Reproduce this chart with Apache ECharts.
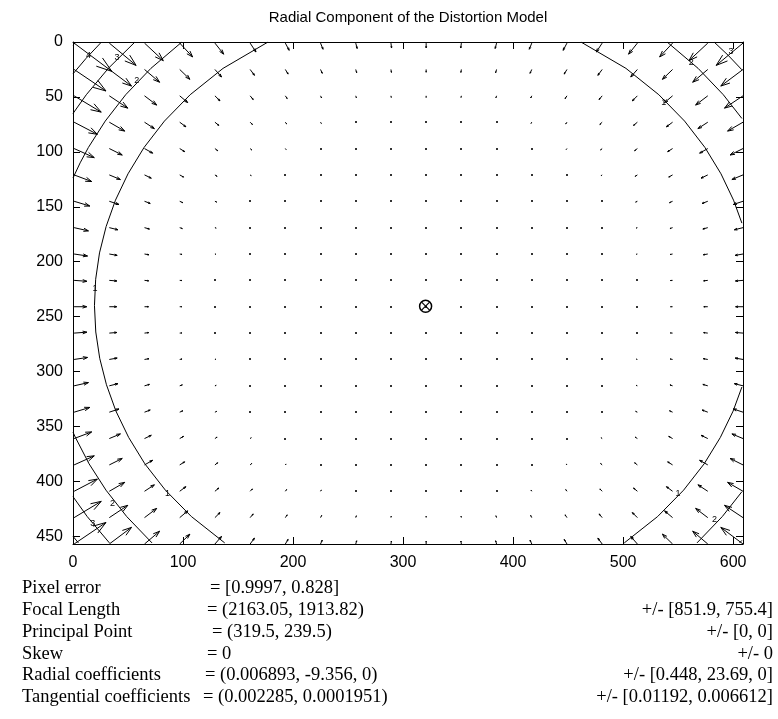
<!DOCTYPE html>
<html><head><meta charset="utf-8">
<script src="https://cdn.jsdelivr.net/npm/echarts@6/dist/echarts.min.js"></script>
<style>html,body{margin:0;padding:0;background:#fff}#c{width:778px;height:719px}</style>
</head><body><div id="c"></div>
<script>
// ---------------- data ----------------
const titleText = 'Radial Component of the Distortion Model';
const xTickValues = [0, 100, 200, 300, 400, 500, 600];
const yTickValues = [0, 50, 100, 150, 200, 250, 300, 350, 400, 450];
// quiver base points (pixel coordinates of the image grid)
const gridX = [1, 33, 65, 97, 129, 161, 193, 225, 257, 289, 321, 353, 385, 417, 449, 481, 513, 545, 577, 609];
const gridY = [1, 25, 49, 73, 97, 121, 145, 169, 193, 217, 241, 265, 289, 313, 337, 361, 385, 409, 433, 457];
const centerCol = 10, centerRow = 10;
// arrow magnitudes (x and y component) by grid distance from the centre: rows = |row-10|, cols = |col-10|
const arrowU = [
  [0, 0, 0, 0, 0.1, 0.2, 0.6, 1.3, 2.6, 4.8, 8.2],
  [0, 0, 0, 0, 0.1, 0.2, 0.6, 1.4, 2.7, 4.9, 8.3],
  [0, 0, 0, 0, 0.1, 0.3, 0.7, 1.5, 2.9, 5.1, 8.7],
  [0, 0, 0, 0, 0.1, 0.4, 0.8, 1.7, 3.2, 5.6, 9.3],
  [0, 0, 0, 0.1, 0.2, 0.5, 1.1, 2.0, 3.7, 6.3, 10.2],
  [0, 0, 0.1, 0.2, 0.4, 0.7, 1.4, 2.5, 4.4, 7.2, 11.4],
  [0, 0.1, 0.1, 0.3, 0.5, 1.0, 1.8, 3.2, 5.3, 8.4, 13.1],
  [0, 0.1, 0.2, 0.5, 0.8, 1.5, 2.5, 4.0, 6.4, 10.0, 15.1],
  [0, 0.2, 0.4, 0.7, 1.2, 2.0, 3.3, 5.2, 7.9, 12.0, 17.6],
  [0, 0.3, 0.6, 1.1, 1.8, 2.8, 4.3, 6.6, 9.8, 14.4, 20.7],
  [0, 0.4, 0.9, 1.6, 2.5, 3.8, 5.7, 8.4, 12.2, 17.4, 24.5]
];
const arrowV = [
  [0, 0, 0, 0, 0, 0, 0, 0, 0, 0, 0],
  [0, 0, 0, 0, 0, 0, 0.1, 0.1, 0.3, 0.4, 0.6],
  [0, 0, 0, 0, 0, 0.1, 0.2, 0.3, 0.5, 0.9, 1.3],
  [0, 0, 0, 0, 0.1, 0.2, 0.3, 0.6, 0.9, 1.4, 2.1],
  [0, 0, 0, 0.1, 0.2, 0.3, 0.5, 0.9, 1.4, 2.1, 3.1],
  [0.1, 0.1, 0.1, 0.2, 0.3, 0.5, 0.9, 1.4, 2.1, 3.0, 4.3],
  [0.2, 0.2, 0.3, 0.4, 0.6, 0.9, 1.4, 2.0, 3.0, 4.2, 5.9],
  [0.5, 0.5, 0.6, 0.8, 1.1, 1.5, 2.1, 3.0, 4.2, 5.8, 7.9],
  [1.0, 1.0, 1.2, 1.4, 1.8, 2.4, 3.3, 4.4, 6.0, 8.0, 10.6],
  [1.8, 1.9, 2.1, 2.5, 3.0, 3.8, 4.9, 6.4, 8.3, 10.8, 14.0],
  [3.1, 3.2, 3.5, 4.0, 4.7, 5.8, 7.2, 9.0, 11.4, 14.5, 18.4]
];
const quiverScale = 1.4;
const principalPoint = [320.5, 240.5];
// contour lines of the distortion magnitude (pixels)
const contour1 = [
  [[177.3,0],[136.4,24],[106.5,48],[83.1,72],[64.6,96],[50.0,120],[38.6,144],[30.1,168],[24.1,192],[20.6,216],[19.5,240],[20.7,264],[24.3,288],[30.4,312],[39.0,336],[50.6,360],[65.3,384],[84.0,408],[107.6,432],[137.9,456]],
  [[461.7,0],[502.6,24],[532.5,48],[555.9,72],[574.4,96],[589.0,120],[600.4,144],[608,164.9]],
  [[608,314.1],[600.0,336],[588.4,360],[573.7,384],[555.0,408],[531.4,432],[501.1,456]]
];
const contour2 = [
  [[99.0,0],[70.8,24],[47.9,48],[29.3,72],[14.0,96],[6.5,110],[0,123.8]],
  [[0,355.2],[2.2,360],[14.6,384],[30.0,408],[48.8,432],[71.8,456]],
  [[540.0,0],[568.2,24],[591.1,48],[608,69.6]],
  [[608,409.4],[590.2,432],[567.2,456]]
];
const contour3 = [
  [[56.3,0],[32.1,24],[12.1,48],[0,65.1]],
  [[0,413.9],[12.9,432],[33.1,456]],
  [[582.7,0],[595.4,12],[608,25.3]],
  [[605.9,456],[608,453.7]]
];
const contour4 = [
  [[25.9,0],[11.8,15],[0,29]],
  [[0,450],[4.9,456]]
];
const contour5 = [
  [[2.7,0],[0,2.9]]
];
const contourLabels = [
  [20, 224, '1'], [537, 55, '1'], [550, 411, '1'], [86, 411, '1'],
  [58, 35, '2'], [36, 420, '2'], [562, 19, '2'], [583, 435, '2'],
  [40, 14, '3'], [18, 438, '3'], [598, 9, '3'],
  [14, 12, '4']
];
const infoLabels = ['Pixel error', 'Focal Length', 'Principal Point', 'Skew', 'Radial coefficients', 'Tangential coefficients'];
const infoValues = ['= [0.9997, 0.828]', '= (2163.05, 1913.82)', '= (319.5, 239.5)', '= 0', '= (0.006893, -9.356, 0)', '= (0.002285, 0.0001951)'];
const infoErrors = ['', '+/- [851.9, 755.4]', '+/- [0, 0]', '+/- 0', '+/- [0.448, 23.69, 0]', '+/- [0.01192, 0.006612]'];

// ---------------- build ----------------
const arrows = [];
gridY.forEach((y, j) => {
  gridX.forEach((x, i) => {
    const k = Math.abs(i - centerCol), m = Math.abs(j - centerRow);
    const sx = i < centerCol ? 1 : -1, sy = j < centerRow ? 1 : -1;
    arrows.push([x, y, sx * arrowU[m][k] * quiverScale, sy * arrowV[m][k] * quiverScale]);
  });
});

const chart = echarts.init(document.getElementById('c'), null, {renderer: 'canvas'});
const black = '#000';
const sansFont = 'Liberation Sans';
const serifFont = 'Liberation Serif';
const infoSize = 18.5;

function axisCommon(extra) {
  return Object.assign({
    type: 'value',
    axisLine: {show: true, onZero: false, lineStyle: {color: black, width: 1}},
    axisTick: {show: true, inside: true, length: 7, lineStyle: {color: black, width: 1}},
    splitLine: {show: false},
    axisLabel: {show: false}
  }, extra);
}

const contourSeries = [];
[contour1, contour2, contour3, contour4, contour5].forEach(level => {
  level.forEach(seg => {
    contourSeries.push({
      type: 'line', data: seg, showSymbol: false, symbol: 'none', silent: true,
      lineStyle: {color: black, width: 1}, z: 3, animation: false, clip: true
    });
  });
});

const graphics = [{
  type: 'text', x: 408, y: 18,
  style: {text: titleText, fontFamily: sansFont, fontSize: 15, fill: black, align: 'center', verticalAlign: 'middle'}
}];
const rowY = [588, 610, 632, 654, 675, 697];
const eqX = [210, 207, 212, 207, 205, 203];
infoLabels.forEach((t, r) => {
  graphics.push({type: 'text', x: 22, y: rowY[r], style: {text: t, fontFamily: serifFont, fontSize: infoSize, fill: black, align: 'left', verticalAlign: 'middle'}});
  graphics.push({type: 'text', x: eqX[r], y: rowY[r], style: {text: infoValues[r], fontFamily: serifFont, fontSize: infoSize, fill: black, align: 'left', verticalAlign: 'middle'}});
  if (infoErrors[r]) graphics.push({type: 'text', x: 773, y: rowY[r], style: {text: infoErrors[r], fontFamily: serifFont, fontSize: infoSize, fill: black, align: 'right', verticalAlign: 'middle'}});
});

const option = {
  animation: false,
  backgroundColor: '#fff',
  grid: {left: 73, top: 42, width: 670, height: 502, show: false},
  xAxis: [
    axisCommon({position: 'bottom', min: 0, max: 609, interval: 100,
      axisLabel: {show: true, color: black, fontFamily: sansFont, fontSize: 16, margin: 11, showMaxLabel: false}}),
    axisCommon({position: 'top', min: 0, max: 609, interval: 100})
  ],
  yAxis: [
    axisCommon({position: 'left', inverse: true, min: 0, max: 457, interval: 50,
      axisLabel: {show: true, color: black, fontFamily: sansFont, fontSize: 16, margin: 10, showMaxLabel: false}}),
    axisCommon({position: 'right', inverse: true, min: 0, max: 457, interval: 50})
  ],
  series: [
    {
      type: 'custom', data: arrows, z: 4, silent: true, clip: false,
      renderItem(params, api) {
        const x = api.value(0), y = api.value(1), u = api.value(2), v = api.value(3);
        const p0 = api.coord([x, y]);
        const tip = api.coord([x + u, y + v]);
        const len = Math.hypot(tip[0] - p0[0], tip[1] - p0[1]);
        if (len < 1.0) {
          return {type: 'rect', shape: {x: Math.round(p0[0]) - 1, y: Math.round(p0[1]) - 1, width: 2, height: 2}, style: {fill: '#333'}};
        }
        const a = 0.33, b = 0.33;
        const h1 = api.coord([x + u - a * (u + b * v), y + v - a * (v - b * u)]);
        const h2 = api.coord([x + u - a * (u - b * v), y + v - a * (v + b * u)]);
        return {type: 'group', children: [
          {type: 'polyline', shape: {points: [p0, tip]}, style: {stroke: black, lineWidth: 1, fill: null}},
          {type: 'polyline', shape: {points: [h1, tip, h2]}, style: {stroke: black, lineWidth: 1, fill: null}}
        ]};
      }
    },
    {
      type: 'custom', data: [principalPoint], z: 5, silent: true,
      renderItem(params, api) {
        const c = api.coord([api.value(0), api.value(1)]);
        const r = 6, d = 4;
        return {type: 'group', children: [
          {type: 'circle', shape: {cx: c[0], cy: c[1], r: r}, style: {stroke: black, lineWidth: 1.5, fill: null}},
          {type: 'line', shape: {x1: c[0] - d, y1: c[1] - d, x2: c[0] + d, y2: c[1] + d}, style: {stroke: black, lineWidth: 1.2}},
          {type: 'line', shape: {x1: c[0] - d, y1: c[1] + d, x2: c[0] + d, y2: c[1] - d}, style: {stroke: black, lineWidth: 1.2}}
        ]};
      }
    },
    {
      type: 'custom', data: contourLabels, z: 5, silent: true,
      renderItem(params, api) {
        const c = api.coord([api.value(0), api.value(1)]);
        return {type: 'text', x: c[0], y: c[1], style: {text: String(contourLabels[params.dataIndex][2]), fontFamily: sansFont, fontSize: 9, fill: black, align: 'center', verticalAlign: 'middle'}};
      }
    }
  ].concat(contourSeries),
  graphic: graphics
};
chart.setOption(option);
</script>
</body></html>
